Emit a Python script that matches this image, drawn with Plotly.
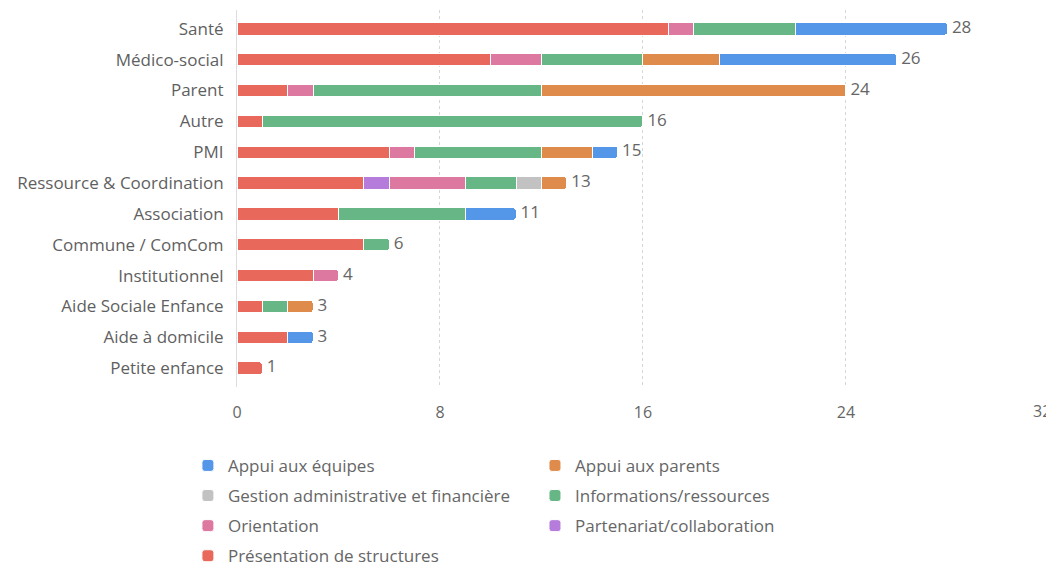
import plotly.graph_objects as go

categories = ["Santé", "Médico-social", "Parent", "Autre", "PMI", "Ressource & Coordination",
              "Association", "Commune / ComCom", "Institutionnel", "Aide Sociale Enfance",
              "Aide à domicile", "Petite enfance"]

presentation = [17, 10, 2, 1, 6, 5, 4, 5, 3, 1, 2, 1]
partenariat  = [0, 0, 0, 0, 0, 1, 0, 0, 0, 0, 0, 0]
orientation  = [1, 2, 1, 0, 1, 3, 0, 0, 1, 0, 0, 0]
informations = [4, 4, 9, 15, 5, 2, 5, 1, 0, 1, 0, 0]
gestion      = [0, 0, 0, 0, 0, 1, 0, 0, 0, 0, 0, 0]
appui_parents = [0, 3, 12, 0, 2, 1, 0, 0, 0, 1, 0, 0]
appui_equipes = [6, 7, 0, 0, 1, 0, 2, 0, 0, 0, 1, 0]

tick_vals = [0, 8, 16, 24, 32]
tick_labels = ["0", "8", "16", "24", "32"]

# stack order: first to last
series = [
    ("Présentation de structures", presentation, "#e8695c", "legend", 4),
    ("Partenariat/collaboration", partenariat, "#b57cdc", "legend2", 3),
    ("Orientation", orientation, "#dd79a0", "legend", 3),
    ("Informations/ressources", informations, "#67b686", "legend2", 2),
    ("Gestion administrative et financière", gestion, "#c2c2c2", "legend", 2),
    ("Appui aux parents", appui_parents, "#df8b4b", "legend2", 1),
    ("Appui aux équipes", appui_equipes, "#5497e8", "legend", 1),
]

totals = [sum(v) for v in zip(*[s[1] for s in series])]

fig = go.Figure()
for name, vals, color, leg, rank in series:
    fig.add_trace(go.Bar(
        y=categories, x=vals, name=name, orientation="h",
        marker=dict(color=color, line=dict(color="white", width=1)),
        legend=leg, legendrank=rank, legendgroup=name,
    ))

fig.add_trace(go.Scatter(
    y=categories, x=totals, mode="text", text=["\u00a0" + str(t) for t in totals],
    textposition="middle right", textfont=dict(size=17, color="#666666"),
    showlegend=False, cliponaxis=False,
))

font_family = "Open Sans, Roboto, sans-serif"
tick_font = dict(size=16, color="#666666", family=font_family)

# the last tick label sits right-aligned on its tick so that it stays inside the frame
fig.add_annotation(
    x=tick_vals[-1], xref="x", y=0, yref="paper", text=tick_labels[-1],
    showarrow=False, xanchor="right", yanchor="middle", xshift=4, yshift=-24,
    font=tick_font,
)

legend_common = dict(
    orientation="v", xanchor="left", yanchor="top", xref="container", yref="container",
    font=dict(size=17, color="#666666", family=font_family),
    tracegroupgap=5, bgcolor="rgba(0,0,0,0)",
)

fig.update_layout(
    barmode="stack",
    bargap=0.6,
    width=1046, height=559,
    margin=dict(l=229, r=3, t=2, b=180, autoexpand=False),
    paper_bgcolor="white", plot_bgcolor="white",
    font=dict(family=font_family, size=15, color="#666666"),
    xaxis=dict(range=[0, 32.08], tickvals=tick_vals, ticktext=tick_labels[:-1] + [""],
               showgrid=True, gridcolor="#d6d6d6", griddash="dot", gridwidth=1,
               zeroline=False, showline=False, ticks="", tickfont=tick_font,
               ticklabelstandoff=14),
    yaxis=dict(categoryorder="array", categoryarray=categories, autorange="reversed",
               showline=True, linecolor="#dddddd", linewidth=1, ticks="",
               tickfont=dict(size=17, color="#5f5f5f"), ticklabelstandoff=9),
    legend=dict(x=0.172, y=0.2131, **legend_common),
    legend2=dict(x=0.5038, y=0.2131, **legend_common),
    barcornerradius=3,
)

fig.write_html("out.html")
